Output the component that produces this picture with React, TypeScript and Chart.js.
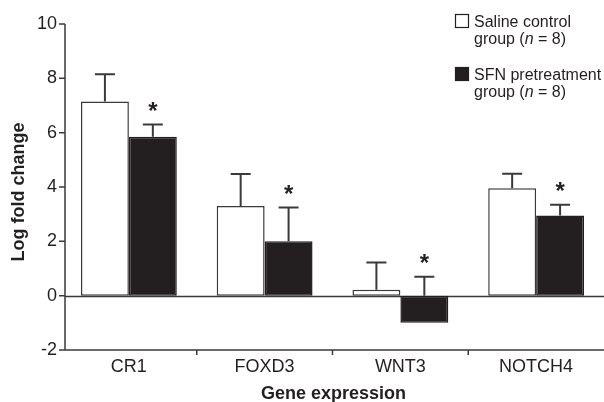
import React, { useEffect, useRef } from "react";
import { Chart, registerables } from "chart.js";

Chart.register(...registerables);

// ---- data ----
const categories = ["CR1", "FOXD3", "WNT3", "NOTCH4"];
const salineValues = [7.15, 3.3, 0.22, 3.95];
const salineErrors = [1.0, 1.18, 1.0, 0.54];
const sfnValues = [5.85, 2.0, -1.0, 2.95];
const sfnErrors = [0.45, 1.25, 1.7, 0.4];
const sfnSignificance = ["*", "*", "*", "*"];
const yMin = -2;
const yMax = 10;
const yStep = 2;
const salineLabel = ["Saline control", "group"];
const sfnLabel = ["SFN pretreatment", "group"];
const groupSize = 8;
const xTitle = "Gene expression";
const yTitle = "Log fold change";

const FONT = '"Liberation Sans", Arial, Helvetica, sans-serif';
const INK = "#231f20";
const LINE = "#3a3a3a";

const errorsByDataset = [salineErrors, sfnErrors];
const valuesByDataset = [salineValues, sfnValues];

const decorPlugin = {
  id: "decor",
  beforeDatasetsDraw(chart: any) {
    const { ctx, chartArea, scales } = chart;
    const y = scales.y;
    const axisX = chartArea.left + 4;
    ctx.save();
    ctx.strokeStyle = LINE;
    ctx.lineWidth = 1.5;
    const y0 = Math.round(y.getPixelForValue(0)) + 0.5;
    ctx.beginPath();
    ctx.moveTo(axisX, y0);
    ctx.lineTo(chartArea.right, y0);
    ctx.stroke();
    ctx.restore();
  },
  afterDatasetsDraw(chart: any) {
    const { ctx, chartArea, scales } = chart;
    const x = scales.x;
    const y = scales.y;
    const axisX = chartArea.left + 4;
    ctx.save();

    // error bars
    ctx.strokeStyle = LINE;
    ctx.lineWidth = 2;
    valuesByDataset.forEach((vals, di) => {
      const meta = chart.getDatasetMeta(di);
      vals.forEach((v, j) => {
        const bar = meta.data[j];
        const topPix = Math.min(bar.y, bar.base);
        const errPix = y.getPixelForValue(v + errorsByDataset[di][j]);
        ctx.beginPath();
        ctx.moveTo(bar.x, topPix);
        ctx.lineTo(bar.x, errPix);
        ctx.moveTo(bar.x - 10, errPix);
        ctx.lineTo(bar.x + 10, errPix);
        ctx.stroke();
      });
    });

    // significance marks
    ctx.fillStyle = INK;
    ctx.font = `bold 24px ${FONT}`;
    ctx.textAlign = "center";
    ctx.textBaseline = "alphabetic";
    const sfnMeta = chart.getDatasetMeta(1);
    sfnSignificance.forEach((mark, j) => {
      if (!mark) return;
      const bar = sfnMeta.data[j];
      const errPix = y.getPixelForValue(sfnValues[j] + sfnErrors[j]);
      const m = ctx.measureText(mark);
      const center = errPix - 18;
      const base = center - (m.actualBoundingBoxDescent - m.actualBoundingBoxAscent) / 2;
      ctx.fillText(mark, bar.x, base);
    });

    // axes
    ctx.strokeStyle = LINE;
    ctx.lineWidth = 1.5;
    ctx.beginPath();
    ctx.moveTo(axisX, chartArea.top);
    ctx.lineTo(axisX, chartArea.bottom);
    ctx.moveTo(axisX, chartArea.bottom);
    ctx.lineTo(chartArea.right, chartArea.bottom);
    for (let v = yMin; v <= yMax; v += yStep) {
      const p = y.getPixelForValue(v);
      ctx.moveTo(axisX - 6, p);
      ctx.lineTo(axisX, p);
    }
    for (let j = 0; j < categories.length - 1; j++) {
      const p = (x.getPixelForValue(j) + x.getPixelForValue(j + 1)) / 2;
      ctx.moveTo(p, chartArea.bottom);
      ctx.lineTo(p, chartArea.bottom + 5);
    }
    ctx.stroke();

    // axis titles
    ctx.fillStyle = INK;
    ctx.font = `bold 18px ${FONT}`;
    ctx.textAlign = "center";
    ctx.textBaseline = "alphabetic";
    ctx.fillText(xTitle, (chartArea.left + chartArea.right) / 2 + 1, 399);
    ctx.save();
    ctx.translate(23.5, 192);
    ctx.rotate(-Math.PI / 2);
    ctx.fillText(yTitle, 0, 0);
    ctx.restore();

    // legend
    const lx = 455;
    const tx = 474;
    const drawEntry = (top: number, fill: string, lines: string[]) => {
      ctx.fillStyle = fill;
      ctx.fillRect(lx, top, 14, 14);
      ctx.strokeStyle = INK;
      ctx.lineWidth = 1.2;
      ctx.strokeRect(lx + 0.5, top + 0.5, 13, 13);
      ctx.fillStyle = INK;
      ctx.textAlign = "left";
      ctx.textBaseline = "alphabetic";
      ctx.font = `16px ${FONT}`;
      ctx.fillText(lines[0], tx, top + 12.5);
      let cx = tx;
      const b2 = top + 29.5;
      const p1 = lines[1] + " (";
      ctx.fillText(p1, cx, b2);
      cx += ctx.measureText(p1).width;
      ctx.font = `italic 16px ${FONT}`;
      ctx.fillText("n", cx, b2);
      cx += ctx.measureText("n").width;
      ctx.font = `16px ${FONT}`;
      ctx.fillText(` = ${groupSize})`, cx, b2);
    };
    drawEntry(14, "#ffffff", salineLabel);
    drawEntry(67, INK, sfnLabel);

    ctx.restore();
  },
};

export default function App() {
  const ref = useRef<HTMLCanvasElement | null>(null);
  useEffect(() => {
    if (!ref.current) return;
    const chart = new Chart(ref.current, {
      type: "bar",
      data: {
        labels: categories,
        datasets: [
          {
            label: "Saline control group",
            data: salineValues,
            backgroundColor: "#ffffff",
            borderColor: LINE,
            borderWidth: 1.5,
            borderSkipped: false,
            categoryPercentage: 0.706,
            barPercentage: 1,
          },
          {
            label: "SFN pretreatment group",
            data: sfnValues,
            backgroundColor: INK,
            borderColor: INK,
            borderWidth: 1.5,
            borderSkipped: false,
            categoryPercentage: 0.706,
            barPercentage: 1,
          },
        ],
      },
      options: {
        animation: false,
        responsive: false,
        devicePixelRatio: 1,
        layout: { padding: { top: 24, right: 0, left: 0, bottom: 0 } },
        plugins: { legend: { display: false }, tooltip: { enabled: false } },
        scales: {
          x: {
            grid: { display: false, drawTicks: false },
            border: { display: false },
            ticks: { font: { family: FONT, size: 18 }, color: INK, padding: 6 },
            afterFit: (s: any) => {
              s.height = 52;
            },
          },
          y: {
            min: yMin,
            max: yMax,
            grid: { display: false, drawTicks: false },
            border: { display: false },
            ticks: { stepSize: yStep, font: { family: FONT, size: 18 }, color: INK, padding: 4 },
            afterFit: (s: any) => {
              s.width = 61;
            },
          },
        },
      },
      plugins: [decorPlugin],
    });
    return () => chart.destroy();
  }, []);
  return (
    <div style={{ position: "fixed", left: 0, top: 0, width: 604, height: 402, background: "#fff" }}>
      <canvas ref={ref} width={604} height={402} style={{ display: "block" }} />
    </div>
  );
}
